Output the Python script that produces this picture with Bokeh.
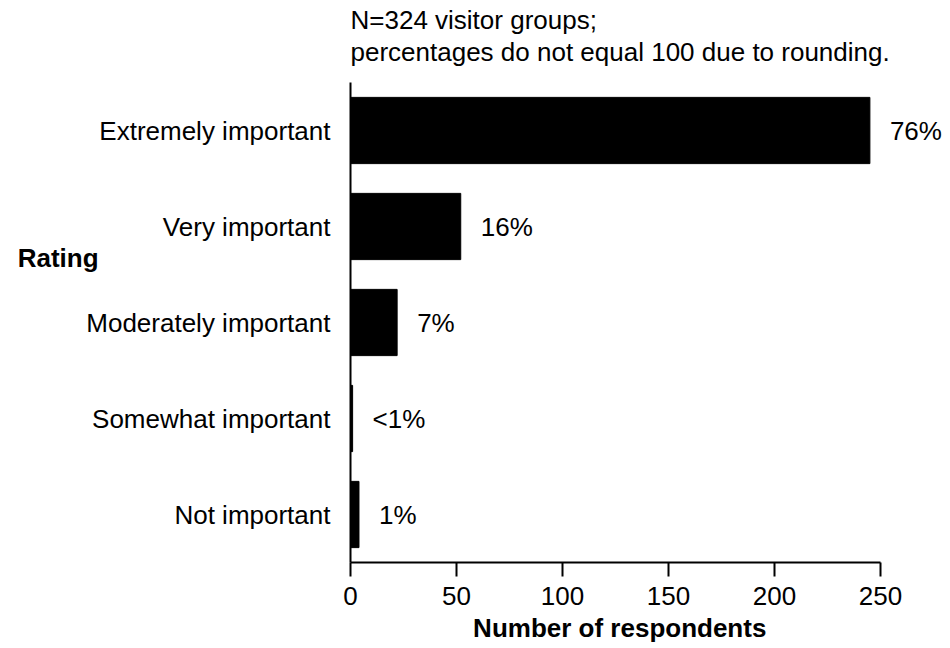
from bokeh.plotting import figure
from bokeh.models import Range1d, Label, FixedTicker, ColumnDataSource, LinearAxis
from bokeh.core.properties import value
from bokeh.embed import file_html
from bokeh.resources import INLINE

# Data
categories = ["Not important", "Somewhat important", "Moderately important",
              "Very important", "Extremely important"]
counts = [4, 1, 22, 52, 245]
pct_labels = ["1%", "<1%", "7%", "16%", "76%"]
x_ticks = [0, 50, 100, 150, 200, 250]
note_line1 = "N=324 visitor groups;"
note_line2 = "percentages do not equal 100 due to rounding."
x_title = "Number of respondents"
y_title = "Rating"

FONT = "Liberation Sans"
FS = "26px"

positions = list(range(len(categories)))
src = ColumnDataSource(dict(pos=positions, n=counts, pct=pct_labels))

W, H = 950, 648
# frame covers whole canvas; axes placed at fixed locations
p = figure(width=W, height=H,
           x_range=Range1d(-350 / 2.12, (W - 350) / 2.12),
           y_range=Range1d((514 - H) / 96.0, 514 / 96.0),
           x_axis_location=None, y_axis_location=None,
           output_backend="svg", toolbar_location=None,
           min_border=0)

p.outline_line_color = None
p.grid.grid_line_color = None
p.background_fill_color = "white"
p.border_fill_color = "white"

p.hbar(y="pos", right="n", left=0, height=0.69, source=src,
       fill_color="black", line_color="black")

p.text(x="n", y="pos", text="pct", source=src, x_offset=20,
       text_align="left", text_baseline="middle",
       text_font=value(FONT), text_font_size=FS, text_color="black")

# X axis
xa = LinearAxis(fixed_location=-0.5, bounds=(0, 250),
                ticker=FixedTicker(ticks=x_ticks))
xa.minor_tick_line_color = None
xa.major_tick_in = 0
xa.major_tick_out = 14
xa.major_tick_line_width = 2
xa.major_tick_line_color = "black"
xa.axis_line_width = 2
xa.axis_line_color = "black"
xa.major_label_text_font = FONT
xa.major_label_text_font_size = FS
xa.major_label_text_color = "black"
xa.major_label_standoff = 10
p.add_layout(xa, "below")

# Y axis
ya = LinearAxis(fixed_location=0, bounds=(-0.5, len(categories) - 0.5),
                ticker=FixedTicker(ticks=positions))
ya.major_label_overrides = {i: c for i, c in zip(positions, categories)}
ya.major_tick_line_color = None
ya.major_tick_in = 0
ya.major_tick_out = 0
ya.minor_tick_line_color = None
ya.minor_tick_in = 0
ya.minor_tick_out = 0
ya.axis_line_width = 2
ya.axis_line_color = "black"
ya.major_label_text_font = FONT
ya.major_label_text_font_size = FS
ya.major_label_text_color = "black"
ya.major_label_standoff = 20
p.add_layout(ya, "left")

# Axis titles and note
p.add_layout(Label(x=127, y=(514 - 627) / 96.0, text=x_title, text_align="center",
                   text_baseline="alphabetic", text_font=FONT,
                   text_font_size=FS, text_font_style="bold",
                   text_color="black"))
p.add_layout(Label(x=-157, y=(514 - 257) / 96.0, text=y_title, text_align="left",
                   text_baseline="alphabetic", text_font=FONT,
                   text_font_size=FS, text_font_style="bold",
                   text_color="black"))
p.add_layout(Label(x=0, y=(514 - 19) / 96.0, text=note_line1, text_align="left",
                   text_baseline="alphabetic", text_font=FONT,
                   text_font_size=FS, text_color="black"))
p.add_layout(Label(x=0, y=(514 - 51) / 96.0, text=note_line2, text_align="left",
                   text_baseline="alphabetic", text_font=FONT,
                   text_font_size=FS, text_color="black"))

open("out.html", "w").write(file_html(p, INLINE))
